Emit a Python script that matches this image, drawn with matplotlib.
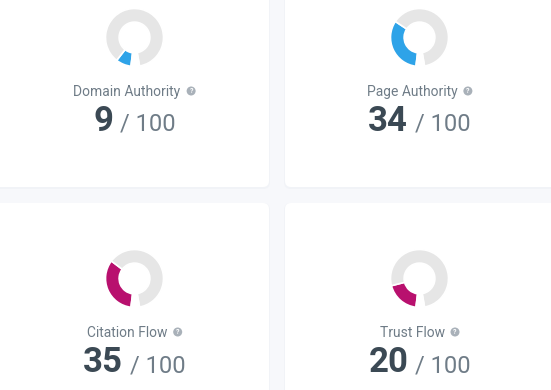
import matplotlib.pyplot as plt
from matplotlib.patches import FancyBboxPatch, Circle

# score cards
metrics = ["Domain Authority", "Page Authority", "Citation Flow", "Trust Flow"]
scores = [9, 34, 35, 20]
max_score = 100
colors = ["#2ea3e8", "#2ea3e8", "#b8106e", "#b8106e"]

W, H = 551, 390
ARC = 343  # degrees covered by the gauge, rest is the gap at the bottom
START = 187  # clockwise from top

fig = plt.figure(figsize=(W / 100, H / 100), dpi=100)
fig.patch.set_facecolor("#f7f8fb")
ax = fig.add_axes([0, 0, 1, 1])
ax.set_xlim(0, W)
ax.set_ylim(H, 0)
ax.axis("off")

cards = [(-30, -40, 299, 227), (285, -40, 300, 227),
         (-30, 203, 299, 230), (285, 203, 300, 230)]
centers = [(134.5, 37.5), (419.5, 37.5), (134.5, 278.5), (419.5, 278.5)]
R = 29

fig.canvas.draw()
renderer = fig.canvas.get_renderer()

for i, name in enumerate(metrics):
    x, y, w, h = cards[i]
    ax.add_patch(FancyBboxPatch((x - 1, y), w + 2, h + 2,
                                boxstyle="round,pad=0,rounding_size=7",
                                fc="#f1f3f7", ec="none"))
    ax.add_patch(FancyBboxPatch((x, y), w, h,
                                boxstyle="round,pad=0,rounding_size=6",
                                fc="white", ec="none"))

    cx, cy = centers[i]
    # gauge
    dax = fig.add_axes([(cx - R) / W, 1 - (cy + R) / H, 2 * R / W, 2 * R / H])
    s = scores[i]
    vals = [s * ARC / max_score, (max_score - s) * ARC / max_score, 360 - ARC]
    dax.pie(vals, colors=[colors[i], "#e6e6e6", "none"],
            startangle=90 - START, counterclock=False, radius=1,
            wedgeprops=dict(width=0.47, edgecolor="white", linewidth=1.2))
    dax.set_xlim(-1, 1)
    dax.set_ylim(-1, 1)
    dax.set_aspect("equal")
    dax.axis("off")

    # label + help icon
    ly = cy + 58.5
    t = ax.text(0, ly, name, fontsize=10, family="Roboto", color="#6f7c87",
                ha="left", va="baseline")
    wl = t.get_window_extent(renderer).width
    total = wl + 6 + 9
    x0 = cx - total / 2
    t.set_x(x0)
    ic = x0 + wl + 6 + 4.5
    ax.add_patch(Circle((ic, ly - 5), 4.5, fc="#a9b1b9", ec="none"))
    ax.text(ic, ly - 4.6, "?", fontsize=5, family="Roboto", weight="bold",
            color="white", ha="center", va="center")

    # score
    ny = cy + 93.5
    n = ax.text(0, ny, str(s), fontsize=25, family="Roboto", weight="bold",
                color="#3b4954", ha="left", va="baseline")
    r = ax.text(0, ny, "/ " + str(max_score), fontsize=17, family="Roboto",
                color="#6f7c87", ha="left", va="baseline")
    wn = n.get_window_extent(renderer).width
    wr = r.get_window_extent(renderer).width
    total = wn + 7 + wr
    x0 = cx - total / 2
    n.set_x(x0)
    r.set_x(x0 + wn + 7)

fig.savefig("out.png", dpi=100, facecolor=fig.get_facecolor())
